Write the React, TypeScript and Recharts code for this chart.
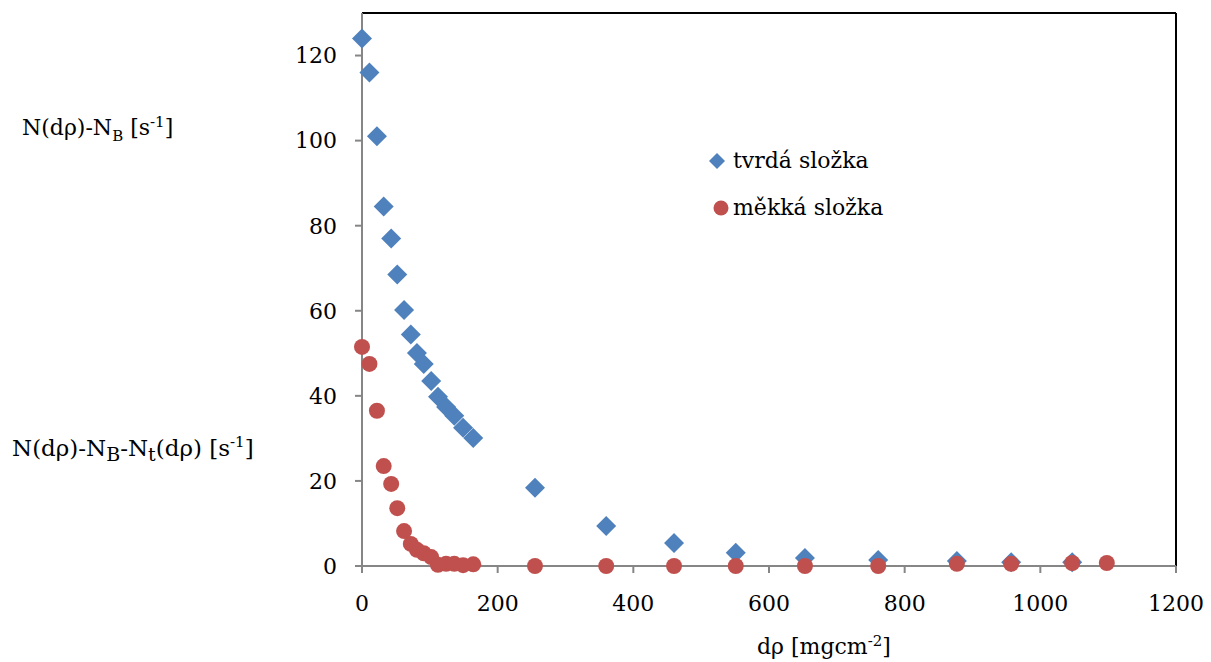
import { ScatterChart, Scatter, XAxis, YAxis, ReferenceLine } from 'recharts'

const hardX = [0, 11, 22, 32, 43, 52, 62, 72, 81, 91, 102, 112, 124, 136, 149, 164, 255, 360, 460, 551, 653, 761, 877, 957, 1047]
const hardY = [124, 116, 101, 84.5, 77, 68.5, 60.2, 54.4, 50.1, 47.5, 43.5, 39.8, 37.4, 35.3, 32.5, 30.1, 18.4, 9.4, 5.4, 3.1, 1.9, 1.4, 1.2, 0.9, 0.9]

const softX = [0, 11, 22, 32, 43, 52, 62, 72, 81, 91, 102, 112, 124, 136, 149, 164, 255, 360, 460, 551, 653, 761, 877, 957, 1047, 1098]
const softY = [51.5, 47.5, 36.5, 23.5, 19.3, 13.6, 8.2, 5.2, 3.8, 3.0, 2.1, 0.3, 0.5, 0.5, 0.2, 0.4, 0, 0, 0, 0, 0, 0, 0.5, 0.5, 0.7, 0.7]

const xTicks = [0, 200, 400, 600, 800, 1000, 1200]
const yTicks = [0, 20, 40, 60, 80, 100, 120]

const BLUE = '#4F81BD'
const RED = '#C0504D'
const AXIS = '#868686'
const FONT = '"DejaVu Serif", serif'

const hard = hardX.map((x, i) => ({ x, y: hardY[i] }))
const soft = softX.map((x, i) => ({ x, y: softY[i] }))

function Diamond(props: any) {
  const { cx, cy } = props
  const r = 10
  return <polygon points={`${cx},${cy - r} ${cx + r},${cy} ${cx},${cy + r} ${cx - r},${cy}`} fill={BLUE} />
}

function Dot(props: any) {
  const { cx, cy } = props
  return <circle cx={cx} cy={cy} r={8} fill={RED} />
}

const labelStyle: React.CSSProperties = {
  position: 'absolute',
  fontFamily: FONT,
  fontSize: 22,
  color: '#000',
  whiteSpace: 'nowrap',
  lineHeight: 1
}

const small = { fontSize: 15 }
const sub2 = { fontSize: 19 }

// legend drawn by hand so it does not take room from the plot
function LegendBox() {
  const row: React.CSSProperties = { display: 'flex', alignItems: 'center', height: 47 }
  return (
    <div style={{ ...labelStyle, left: 703, top: 137 }}>
      <div style={row}>
        <svg width={30} height={22}>
          <polygon points="14,3 22,11 14,19 6,11" fill={BLUE} />
        </svg>
        <span>tvrdá složka</span>
      </div>
      <div style={row}>
        <svg width={30} height={22}>
          <circle cx={18} cy={11} r={7.5} fill={RED} />
        </svg>
        <span>měkká složka</span>
      </div>
    </div>
  )
}

export default function App() {
  return (
    <div style={{ position: 'absolute', left: 0, top: 0, width: 1211, height: 662, background: '#fff' }}>
      <ScatterChart width={1211} height={662} margin={{ top: 13, right: 35, bottom: 56, left: 302 }}>
        <XAxis
          type="number"
          dataKey="x"
          domain={[0, 1200]}
          ticks={xTicks}
          height={40}
          stroke={AXIS}
          strokeWidth={2}
          tickSize={7}
          tickMargin={22}
          tick={{ fill: '#000', fontSize: 22, fontFamily: FONT }}
        />
        <YAxis
          type="number"
          dataKey="y"
          domain={[0, 130]}
          ticks={yTicks}
          width={60}
          stroke={AXIS}
          strokeWidth={2}
          tickSize={7}
          tickMargin={18}
          tick={{ fill: '#000', fontSize: 22, fontFamily: FONT }}
        />
        <ReferenceLine y={130} stroke="#000" strokeWidth={2} />
        <ReferenceLine x={1200} stroke="#000" strokeWidth={2} />
        <Scatter name="tvrdá složka" data={hard} shape={Diamond} isAnimationActive={false} />
        <Scatter name="měkká složka" data={soft} shape={Dot} isAnimationActive={false} />
      </ScatterChart>

      <LegendBox />
      <div style={{ ...labelStyle, left: 22, top: 115 }}>
        N(dρ)-N<sub style={small}>B</sub> [s<sup style={small}>-1</sup>]
      </div>
      <div style={{ ...labelStyle, fontSize: 23, left: 12, top: 435 }}>
        N(dρ)-N<sub style={sub2}>B</sub>-N<sub style={sub2}>t</sub>(dρ) [s<sup style={small}>-1</sup>]
      </div>
      <div style={{ ...labelStyle, left: 757, top: 634 }}>
        dρ [mgcm<sup style={small}>-2</sup>]
      </div>
    </div>
  )
}
